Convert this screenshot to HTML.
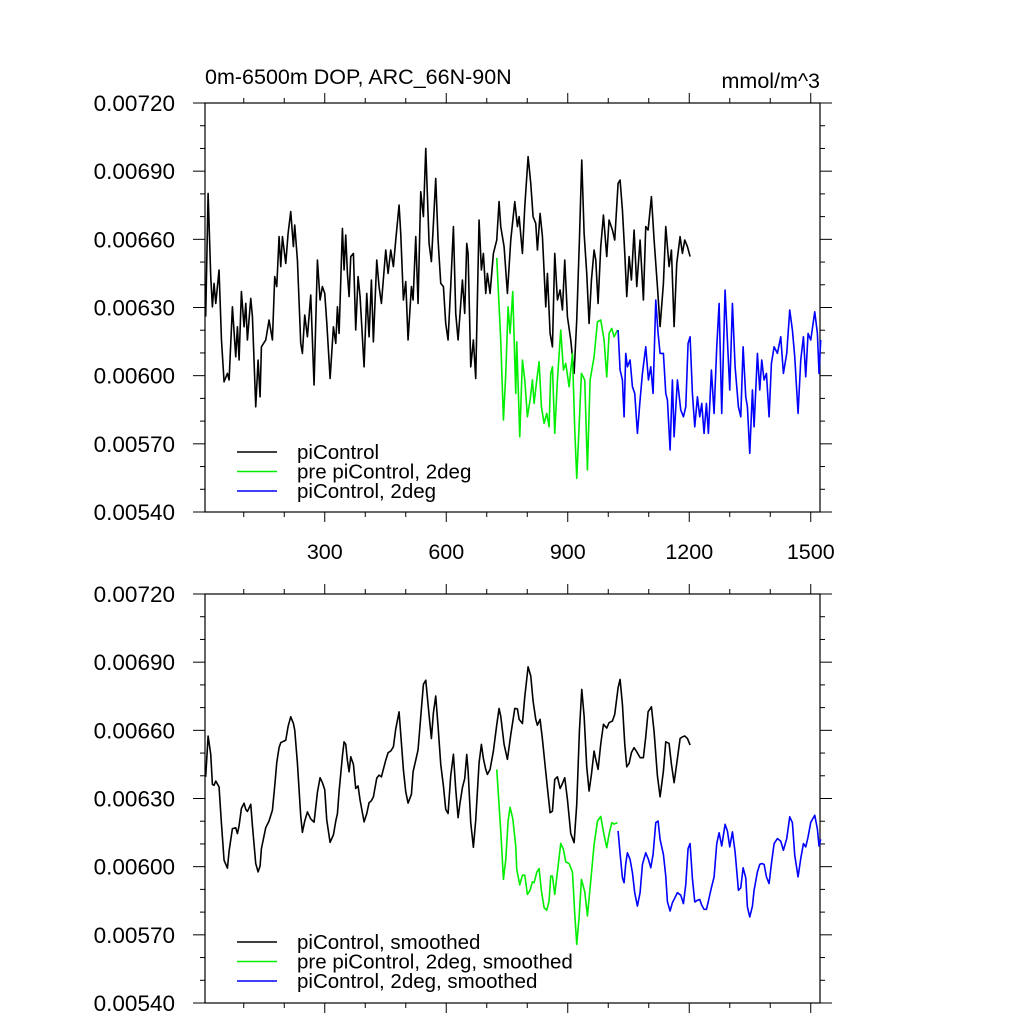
<!DOCTYPE html>
<html><head><meta charset="utf-8"><style>
html,body{margin:0;padding:0;background:#fff;}
svg{display:block;font-family:"Liberation Sans",sans-serif;}
</style></head><body>
<svg id="chart" width="1024" height="1024" viewBox="0 0 1024 1024" xmlns="http://www.w3.org/2000/svg">
<text x="205" y="84" font-size="21.5">0m-6500m DOP, ARC_66N-90N</text>
<text x="820" y="88" font-size="21.5" text-anchor="end">mmol/m^3</text>
<g id="top"></g>
<g id="bot"></g>
</svg>
<script>
// values in units of 1e-6 mmol/m^3
const blackYears=[6,12,18.5,22.6,26.7,30.9,39,45,51.4,59.7,63.8,72,80.2,84.4,88.5,94.2,100.8,105,109,117.3,121.4,129.6,135.4,140.3,143.6,154.3,162.5,170.8,176.5,181.5,187.2,191.4,195.5,203.7,209.5,216,222.6,225.9,232.5,240.7,244.8,250.6,257.2,265.4,273.6,281.9,288.5,294.2,300,304.9,313.2,321.4,327.2,331.3,335.4,343.6,347.7,351.8,356,360.1,364.2,370.8,376.5,382.3,387.2,397.1,403.7,409.4,415.2,420.1,428.4,434.1,439.9,450.6,456.4,463,469.5,475.3,483.5,487.6,494.2,500,505.7,514,518.1,524.7,530.4,537,543.6,549.4,557.6,563.3,568.3,574,579.8,586.4,593,598.7,604.5,611,617.7,623.4,629.2,634.1,639.9,645.6,650.6,653.9,660.5,667,672.8,681,686.8,691.7,697.5,701.6,708.2,716.4,724.7,730.4,734.6,742.8,751,759.3,769.2,775.8,779.9,788.1,793.9,802.1,808.7,814.4,821,825.1,831.7,837.5,845.7,849.8,856.4,862.2,867.9,874.5,881.1,886.9,892.6,899.2,907.4,915.7,922.2,928.8,934.6,940.4,946.9,952.7,958.5,965,969.2,974.9,981.5,988.1,996.3,1002,1010.3,1016,1024.3,1029.2,1035,1040.8,1045.7,1051.5,1057.2,1063.8,1070.4,1078.6,1086.8,1092.6,1098.4,1106.6,1113.2,1121.4,1128,1136.2,1142,1150.2,1156,1162.6,1169.1,1177.4,1183.1,1188.9,1195.5,1202.1];
const blackValues=[6260,6802,6436,6303,6406,6318,6465,6157,5973,6010,5981,6303,6083,6215,6069,6370,6215,6318,6157,6340,6260,5863,6069,5907,6127,6157,6245,6157,6436,6392,6612,6480,6612,6494,6626,6722,6568,6663,6509,6142,6098,6267,6171,6355,5959,6509,6333,6392,6362,6237,5988,6215,6142,6303,6186,6648,6465,6619,6450,6348,6524,6538,6201,6436,6348,6039,6362,6171,6421,6149,6509,6392,6318,6553,6450,6553,6480,6597,6751,6626,6333,6414,6157,6392,6333,6612,6318,6810,6700,7000,6582,6502,6670,6868,6597,6406,6392,6230,6157,6392,6656,6274,6157,6274,6421,6274,6582,6538,6039,6157,5988,6685,6465,6538,6362,6450,6362,6538,6597,6766,6656,6568,6362,6597,6766,6656,6700,6538,6744,6964,6846,6700,6670,6553,6714,6612,6303,6450,6186,6127,6538,6333,6377,6289,6509,6259,6157,6010,6245,6597,6949,6626,6450,6230,6421,6553,6509,6318,6568,6707,6524,6685,6641,6597,6846,6861,6729,6538,6348,6524,6421,6641,6392,6597,6333,6656,6641,6788,6597,6392,6216,6406,6656,6480,6553,6216,6494,6612,6538,6597,6568,6524];
const greenYears=[724.7,734.5,741.2,747,752.7,757.6,764.2,771.6,774.1,781.5,788.1,793.9,800.4,807,812.8,816.9,823.5,829.2,835,841.6,848.2,853.9,858,862.2,867.9,874.5,882.7,889.3,895.1,903.3,911.6,917.3,922.2,928,933.8,942,948.6,955.2,965,973.3,981.5,989.7,996.3,1002.1,1008.7,1014.4,1022.7];
const greenValues=[6518,6157,5805,6010,6303,6186,6370,5922,6149,5731,6069,5981,5819,5893,5981,5878,5981,6061,5863,5790,5834,5775,6010,6039,5746,5981,6201,6025,6054,5951,6098,5761,5548,5775,6010,5981,5585,5981,6083,6237,6245,6157,5995,6186,6208,6171,6201];
const blueYears=[1024.3,1029.2,1035,1039.1,1043.2,1047.3,1053.9,1059.7,1065.4,1072,1078.6,1084.4,1092.6,1099.2,1105,1110.7,1117.3,1123.1,1128,1136.2,1142,1146.1,1152.7,1158.4,1162.6,1170.8,1179,1185.6,1191.4,1197.1,1202.1,1207.8,1213.6,1220.2,1225.9,1230.9,1236.6,1242.4,1247.3,1254.7,1261.3,1267.9,1273.7,1280.2,1288.5,1294.2,1300,1306.6,1313.2,1321.4,1327.2,1333,1339.5,1343.6,1349.4,1356,1360.1,1368.3,1374.1,1379,1384.8,1390.6,1397.1,1402.9,1409.5,1417.7,1425.9,1432.5,1440.7,1448.1,1454.7,1460.5,1468.7,1475.3,1481.9,1487.6,1493.4,1500,1509.9,1516.4,1520.5,1524.6];
const blueValues=[6201,6025,5981,5819,6098,6039,6069,5951,5922,5746,5893,6010,6127,5981,6039,5922,6333,6186,6098,6098,5922,5893,5673,5981,5731,5981,5849,5819,5863,6142,6171,5922,5775,5907,5819,5878,5746,5878,5746,6025,5834,6127,6318,5834,6377,6157,5937,6318,6039,5863,5819,6127,5907,5863,5658,5937,5775,6098,5937,6069,5981,6010,5819,6054,6127,6098,6171,6010,6098,6289,6201,6083,5834,6069,6171,5995,6186,6157,6281,6186,6010,6157];
const xTickLabels=["300","600","900","1200","1500"];
const yTickLabels=["0.00540","0.00570","0.00600","0.00630","0.00660","0.00690","0.00720"];

const NS="http://www.w3.org/2000/svg";
const X0=203.25, XS=0.405, LEFT=205, RIGHT=820;
const YMIN=5400, YMAX=7200;
function xScale(yr){return X0+yr*XS;}
function mk(tag,parent,attrs){const e=document.createElementNS(NS,tag);for(const k in attrs)e.setAttribute(k,attrs[k]);parent.appendChild(e);return e;}
function smooth(v){return v.map((d,i)=>{const a=v[Math.max(0,i-1)],b=v[Math.min(v.length-1,i+1)];return 0.25*a+0.5*d+0.25*b;});}

function panel(g,top,bottom,showX,smoothed,legendY,labels){
  const yScale=v=>bottom-(v-YMIN)/(YMAX-YMIN)*(bottom-top);
  const frame=mk('rect',g,{x:LEFT,y:top,width:RIGHT-LEFT,height:bottom-top,fill:'none',stroke:'#000','stroke-width':1.2});
  
  
  for(let yr=100;yr<=1500;yr+=100){
    const x=xScale(yr);const major=yr%300===0;const L=major?10:5;
    mk('line',g,{x1:x,y1:bottom,x2:x,y2:bottom+L,stroke:'#000','stroke-width':1});
    mk('line',g,{x1:x,y1:top,x2:x,y2:top-L,stroke:'#000','stroke-width':1});
  }
  if(showX){
    xTickLabels.forEach(t=>{
      const tx=mk('text',g,{x:xScale(+t),y:bottom+47,'font-size':21.5,'text-anchor':'middle'});
      
      
      tx.textContent=t;
    });
  }
  for(let v=YMIN;v<=YMAX;v+=100){
    const y=yScale(v);const major=(v-YMIN)%300===0;const L=major?12:5;
    mk('line',g,{x1:LEFT,y1:y,x2:LEFT-L,y2:y,stroke:'#000','stroke-width':1});
    mk('line',g,{x1:RIGHT,y1:y,x2:RIGHT+L,y2:y,stroke:'#000','stroke-width':1});
  }
  yTickLabels.forEach(t=>{
    const ty=mk('text',g,{x:175,y:yScale(parseFloat(t)*1e6)+8,'font-size':22.5,'text-anchor':'end'});
    
    
    ty.textContent=t;
  });
  const series=[[blackYears,blackValues,'#000','black-series'],[greenYears,greenValues,'#00ee00','green-series'],[blueYears,blueValues,'#0000ff','blue-series']];
  series.forEach(s=>{
    const vals=smoothed?smooth(s[1]):s[1];
    const d=s[0].map((yr,i)=>(i?'L':'M')+xScale(yr).toFixed(2)+' '+yScale(vals[i]).toFixed(2)).join(' ');
    const p=mk('path',g,{d:d,fill:'none',stroke:s[2],'stroke-width':1.6,'stroke-linejoin':'round'});
    
    
  });
  const cols=['#000','#00ee00','#0000ff'];
  labels.forEach((lab,i)=>{
    const y=legendY+i*19.5;
    const l=mk('line',g,{x1:237,y1:y,x2:277,y2:y,stroke:cols[i],'stroke-width':1.4});
    
    
    const t=mk('text',g,{x:297,y:y+7,'font-size':20.5});
    
    
    t.textContent=lab;
  });
}
panel(document.getElementById('top'),103,512,true,false,452,["piControl","pre piControl, 2deg","piControl, 2deg"]);
panel(document.getElementById('bot'),594,1003,false,true,942,["piControl, smoothed","pre piControl, 2deg, smoothed","piControl, 2deg, smoothed"]);
</script>
</body></html>
